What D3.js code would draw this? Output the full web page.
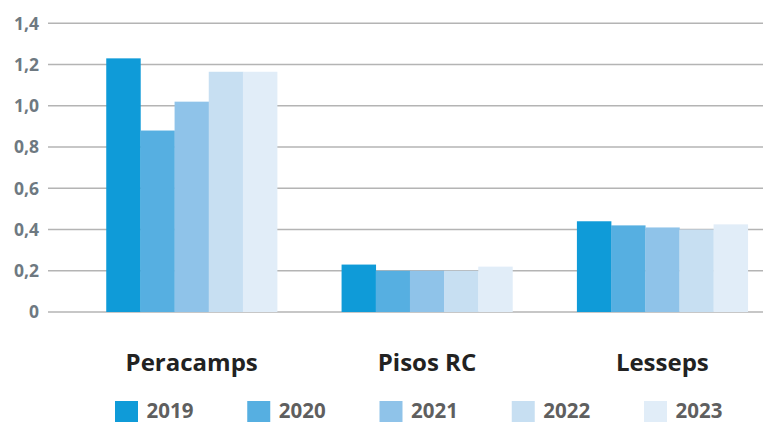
<!DOCTYPE html>
<html>
<head>
<meta charset="utf-8">
<script src="https://cdn.jsdelivr.net/npm/d3@7"></script>
<style>
  body { margin: 0; background: #fff; }
  svg { display: block; font-family: "Open Sans", sans-serif; }
</style>
</head>
<body>
<svg width="763" height="423"></svg>
<script>
// chart data
var sites = ["Peracamps", "Pisos RC", "Lesseps"];
var years = ["2019", "2020", "2021", "2022", "2023"];
var v2019 = [1.23, 0.23, 0.44];
var v2020 = [0.88, 0.20, 0.42];
var v2021 = [1.02, 0.20, 0.41];
var v2022 = [1.165, 0.20, 0.40];
var v2023 = [1.165, 0.22, 0.425];
var yTicks = [0, 0.2, 0.4, 0.6, 0.8, 1.0, 1.2, 1.4];

var series = [v2019, v2020, v2021, v2022, v2023];
var colors = ["#0f9bd8", "#56afe1", "#8fc3e9", "#c7dff2", "#e1edf8"];

var svg = d3.select("svg"),
  width = +svg.attr("width"),
  height = +svg.attr("height");

var x = d3.scaleBand().domain(sites).range([74, 780]).paddingInner(0.274).paddingOuter(0.137);
var xs = d3.scaleBand().domain(years).range([0, x.bandwidth()]);
var y = d3.scaleLinear().domain([0, 1.4]).range([312, 23.3]);
var color = d3.scaleOrdinal().domain(years).range(colors);

var loc = d3.formatLocale({decimal: ",", thousands: ".", grouping: [3], currency: ["", "€"]});
var fmt = loc.format(".1f");

// gridlines
svg.append("g")
  .attr("class", "grid")
  .selectAll("line")
  .data(yTicks)
  .enter().append("line")
  .attr("x1", 48)
  .attr("x2", width)
  .attr("y1", function (d) { return y(d); })
  .attr("y2", function (d) { return y(d); })
  .attr("stroke", "#b4b4b4")
  .attr("stroke-width", 1.5);

// y labels
svg.append("g")
  .selectAll("text")
  .data(yTicks)
  .enter().append("text")
  .attr("x", 39)
  .attr("y", function (d) { return y(d); })
  .attr("dy", "0.36em")
  .attr("text-anchor", "end")
  .attr("fill", "#6e7981")
  .style("font-size", "17.5px")
  .style("font-weight", "bold")
  .text(function (d) { return d === 0 ? "0" : fmt(d); });

// bars
var groups = svg.append("g")
  .selectAll("g")
  .data(sites)
  .enter().append("g")
  .attr("transform", function (d) { return "translate(" + x(d) + ",0)"; });

groups.selectAll("rect")
  .data(function (d, i) {
    return years.map(function (yr, j) { return {year: yr, value: series[j][i]}; });
  })
  .enter().append("rect")
  .attr("x", function (d) { return xs(d.year); })
  .attr("width", xs.bandwidth() + 0.3)
  .attr("y", function (d) { return y(d.value); })
  .attr("height", function (d) { return y(0) - y(d.value); })
  .attr("fill", function (d) { return color(d.year); });

// category labels
svg.append("g")
  .selectAll("text")
  .data(sites)
  .enter().append("text")
  .attr("x", function (d) { return x(d) + x.bandwidth() / 2; })
  .attr("y", 371)
  .attr("text-anchor", "middle")
  .attr("fill", "#222222")
  .style("font-size", "24px")
  .style("font-weight", "bold")
  .text(function (d) { return d; });

// legend
var lx = d3.scalePoint().domain(years).range([115, 644]);
var legend = svg.append("g")
  .selectAll("g")
  .data(years)
  .enter().append("g")
  .attr("transform", function (d) { return "translate(" + lx(d) + ",401)"; });

legend.append("rect")
  .attr("width", 23)
  .attr("height", 21)
  .attr("fill", function (d) { return color(d); });

legend.append("text")
  .attr("x", 31.5)
  .attr("y", 16.5)
  .attr("fill", "#5f5f5f")
  .style("font-size", "20.5px")
  .style("font-weight", "bold")
  .text(function (d) { return d; });
</script>
</body>
</html>
